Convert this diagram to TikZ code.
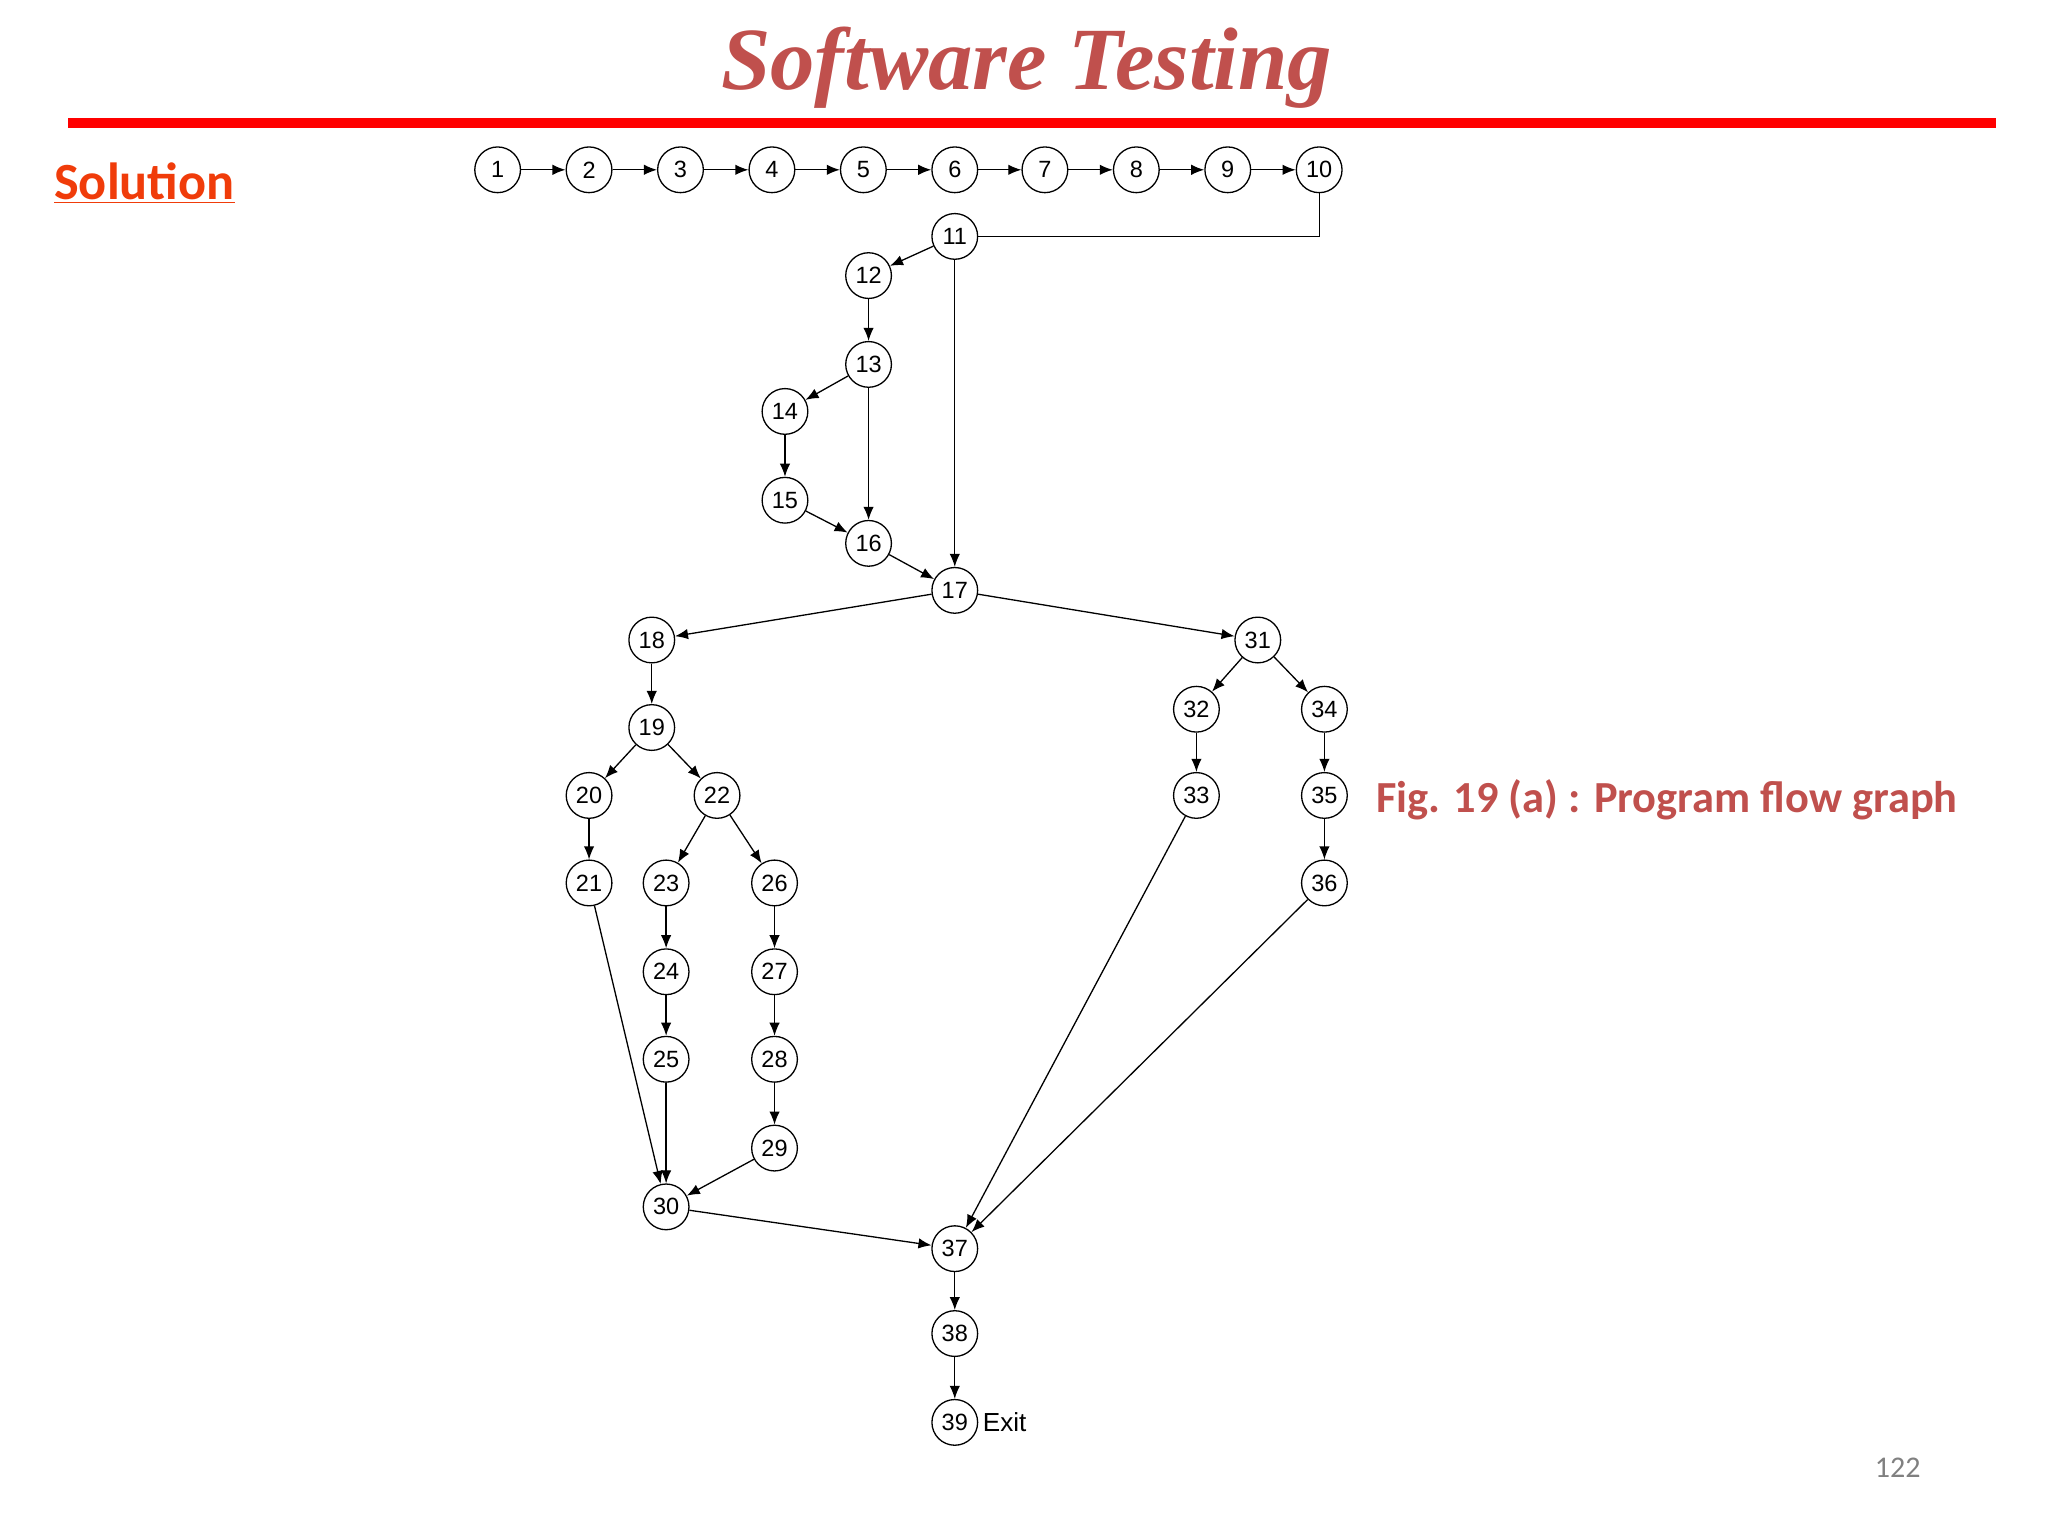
\documentclass[tikz,border=0pt]{standalone}
\usepackage{fontspec}
\usetikzlibrary{arrows.meta}
\setmainfont{Liberation Sans}
\newfontfamily\carl{Carlito}
\newfontfamily\titlef{Liberation Serif}
\definecolor{tred}{RGB}{192,80,77}
\definecolor{sred}{RGB}{240,60,10}
\begin{document}
\begin{tikzpicture}[x=1pt,y=-1pt,
 v/.style={circle,draw,line width=1pt,minimum size=35pt,inner sep=0pt,font=\fontsize{18}{18}\selectfont},
 e/.style={-{Latex[length=10pt,width=8pt]},line width=1pt}]
\useasboundingbox (0,0) rectangle (1568,1176);
\node[font=\titlef\bfseries\itshape\fontsize{68}{68}\selectfont,text=tred] (title) at (786,52) {Software Testing};
\fill[red] (52,90) rectangle (1528,98);
\node[font=\carl\bfseries\fontsize{40}{40}\selectfont,text=sred,anchor=west] (sol) at (38,140) {\underline{Solution}};
\node[font=\carl\bfseries\fontsize{34}{34}\selectfont,text=tred,anchor=west] (cap) at (1050,612) {Fig. 19 (a) : Program flow graph};
\node[font=\carl\fontsize{23}{23}\selectfont,text=gray] (pg) at (1453,1124) {122};
\foreach \n/\x in {1/381,2/451,3/521,4/591,5/661,6/731,7/800,8/870,9/940,10/1010}
  \node[v] (n\n) at (\x,130) {\n};
\foreach \n/\x/\y in {11/731/181,12/665/211,13/665/279,14/601/315,15/601/383,16/665/416,17/731/452,18/499/490,19/499/557,20/451/609,22/549/609,21/451/676,23/510/676,26/593/676,24/510/744,27/593/744,25/510/811,28/593/811,29/593/879,30/510/924,31/963/490,32/916/543,34/1014/543,33/916/609,35/1014/609,36/1014/676,37/731/956,38/731/1021,39/731/1089}
  \node[v] (n\n) at (\x,\y) {\n};
\node[anchor=west,font=\fontsize{20}{20}\selectfont] (exit) at (n39.east) {Exit};
\foreach \a/\b in {1/2,2/3,3/4,4/5,5/6,6/7,7/8,8/9,9/10,11/12,11/17,12/13,13/14,13/16,14/15,15/16,16/17,17/18,17/31,18/19,19/20,19/22,20/21,21/30,22/23,22/26,23/24,24/25,25/30,26/27,27/28,28/29,29/30,30/37,31/32,31/34,32/33,34/35,35/36,33/37,36/37,37/38,38/39}
  \draw[e] (n\a) -- (n\b);
\draw[line width=1pt] (n10.south) |- (n11.east);
\end{tikzpicture}
\end{document}
